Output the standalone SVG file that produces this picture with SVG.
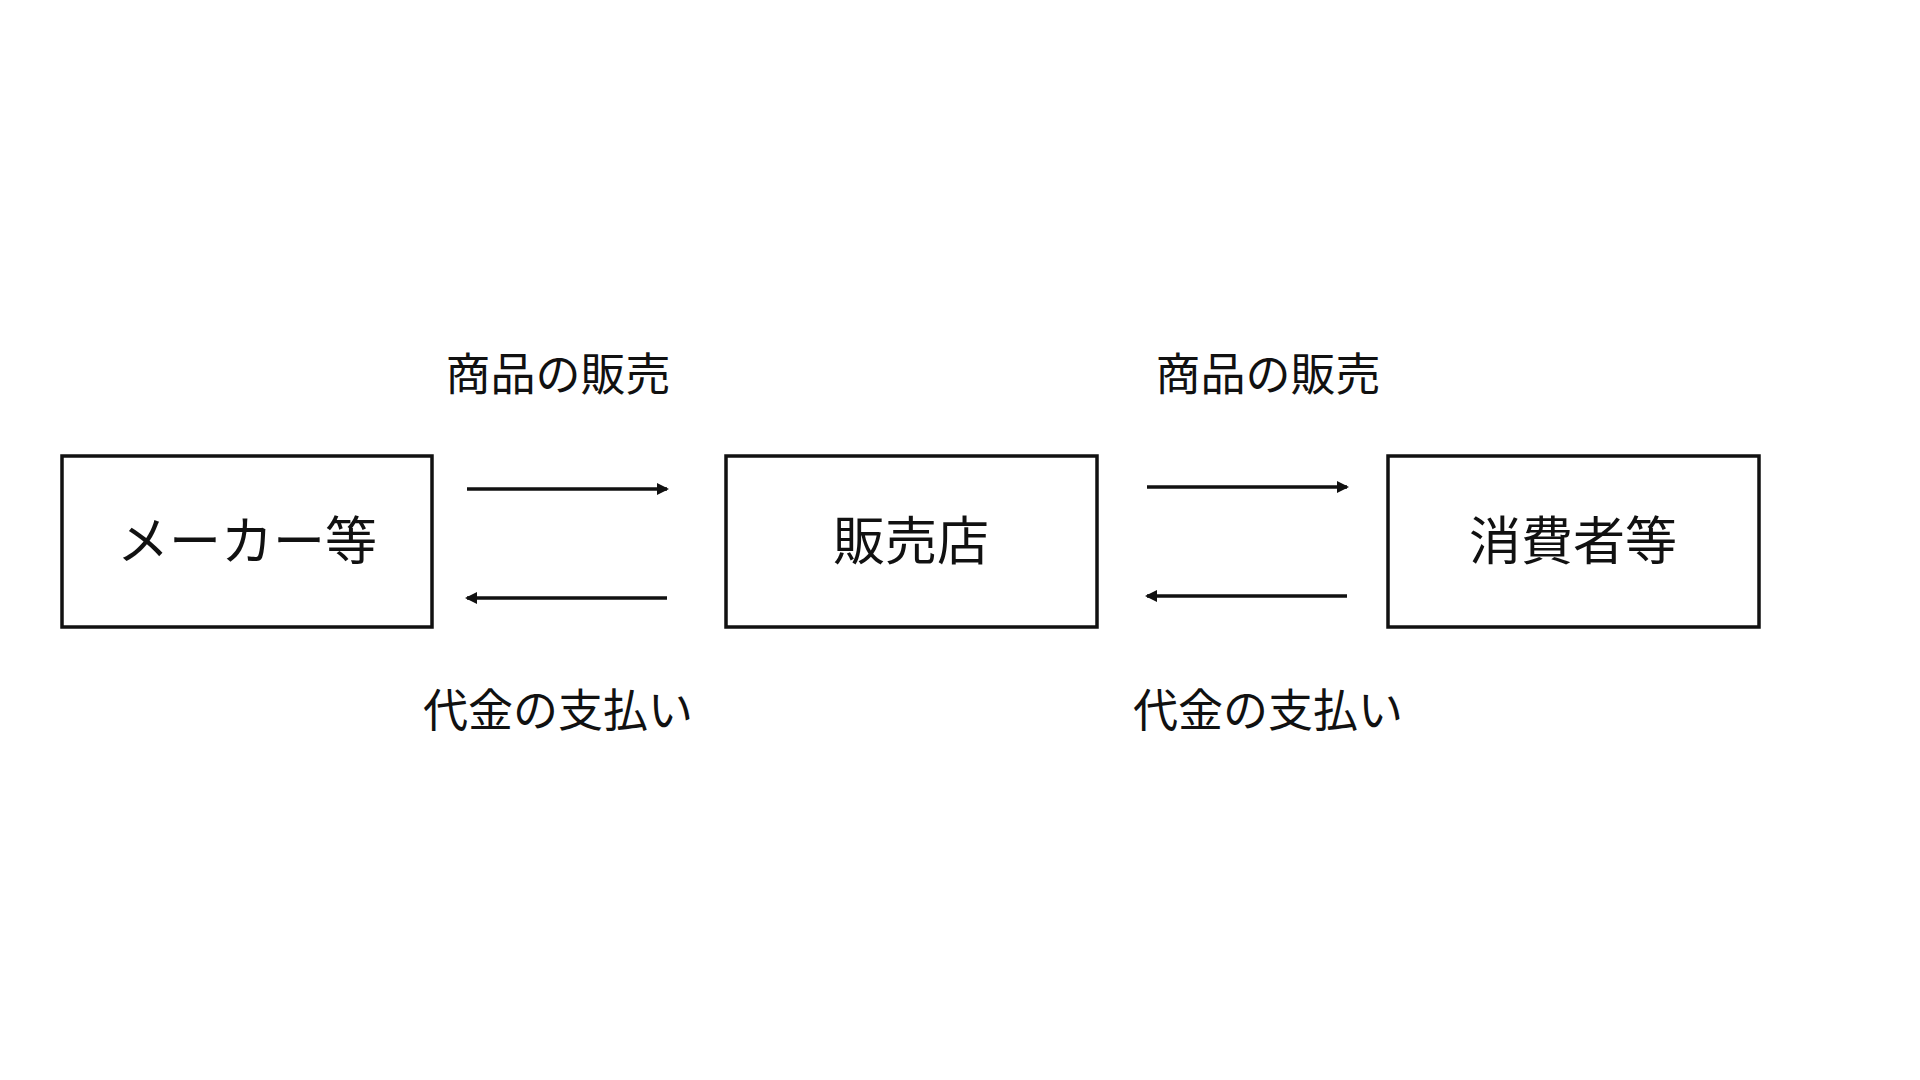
<svg xmlns="http://www.w3.org/2000/svg" width="1920" height="1080" viewBox="0 0 1920 1080">
<style>
.box{fill:#fff;stroke:#111;stroke-width:3.5}
.t{font-family:"Noto Sans CJK JP",sans-serif;fill:#111;text-anchor:middle}
.n{font-size:52px}
.l{font-size:45px}
.c{stroke:#111;stroke-width:3.5;fill:none;marker-end:url(#ah)}
</style>
<defs><marker id="ah" markerWidth="12" markerHeight="14" refX="10" refY="7" orient="auto" markerUnits="userSpaceOnUse"><path d="M0,1 L12,7 L0,13 Z" fill="#111"/></marker></defs>
<rect width="1920" height="1080" fill="#fff"/>
<g id="maker"><rect class="box" x="62" y="456" width="370" height="171"/><text class="t n" x="247" y="560">メーカー等</text></g>
<g id="shop"><rect class="box" x="726" y="456" width="371" height="171"/><text class="t n" x="911" y="560">販売店</text></g>
<g id="consumer"><rect class="box" x="1388" y="456" width="371" height="171"/><text class="t n" x="1573" y="560">消費者等</text></g>
<g id="connectors">
<line class="c" x1="467" y1="489" x2="667" y2="489"/>
<line class="c" x1="667" y1="598" x2="467" y2="598"/>
<line class="c" x1="1147" y1="487" x2="1347" y2="487"/>
<line class="c" x1="1347" y1="596" x2="1147" y2="596"/>
</g>
<g id="labels">
<text class="t l" x="558" y="391">商品の販売</text>
<text class="t l" x="558" y="727">代金の支払い</text>
<text class="t l" x="1268" y="391">商品の販売</text>
<text class="t l" x="1268" y="727">代金の支払い</text>
</g>
</svg>
